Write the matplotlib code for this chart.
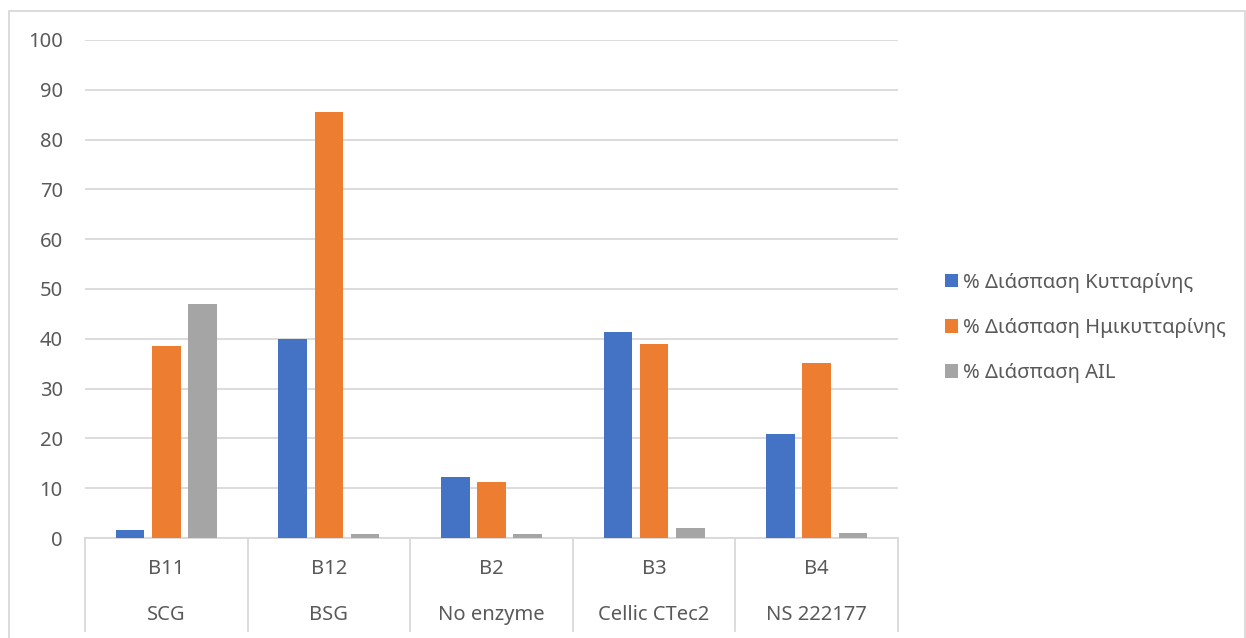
import matplotlib
matplotlib.use('Agg')
import matplotlib.pyplot as plt
import matplotlib.patches as mpatches
import matplotlib.transforms as mtransforms
from matplotlib.lines import Line2D
import numpy as np

plt.rcParams['font.family'] = ['Noto Sans', 'DejaVu Sans']

# δεδομένα
samples = ['B11', 'B12', 'B2', 'B3', 'B4']
enzymes = ['SCG', 'BSG', 'No enzyme', 'Cellic CTec2', 'NS 222177']
cellulose = [1.6, 40.0, 12.3, 41.3, 20.9]
hemicellulose = [38.5, 85.5, 11.3, 39.0, 35.1]
ail = [47.0, 0.8, 0.9, 2.0, 1.1]

series_names = ['% Διάσπαση Κυτταρίνης', '% Διάσπαση Ημικυτταρίνης', '% Διάσπαση AIL']
colors = ['#4472C4', '#ED7D31', '#A5A5A5']
text_color = '#595959'
grid_color = '#D9D9D9'
fs = 14.5

W, H = 1246, 638
fig = plt.figure(figsize=(W / 100, H / 100), dpi=100)

# άξονες σε pixel
x0, x1 = 85, 898
y_top, y_base = 40, 538
ax = fig.add_axes([x0 / W, (H - y_base) / H, (x1 - x0) / W, (y_base - y_top) / H])

x = np.arange(len(samples))
width = 0.176
step = 0.223
for i, (vals, name, c) in enumerate(zip([cellulose, hemicellulose, ail], series_names, colors)):
    ax.bar(x + (i - 1) * step, vals, width, color=c, label=name, zorder=3)

ax.set_xlim(-0.5, len(samples) - 0.5)
ax.set_ylim(0, 100)
ax.set_yticks(np.arange(0, 101, 10))
ax.yaxis.grid(True, color=grid_color, linewidth=1.3, zorder=0)
ax.set_axisbelow(True)
ax.tick_params(axis='y', length=0, pad=16, labelsize=fs, labelcolor=text_color)
ax.set_xticks([])
for s in ['top', 'right', 'left']:
    ax.spines[s].set_visible(False)
ax.spines['bottom'].set_color(grid_color)
ax.spines['bottom'].set_linewidth(1.3)

# ετικέτες κατηγοριών σε δύο επίπεδα
trans = mtransforms.blended_transform_factory(ax.transData, fig.transFigure)
for xi, s, e in zip(x, samples, enzymes):
    ax.text(xi, (H - 569) / H, s, transform=trans, ha='center', va='center',
            fontsize=fs, color=text_color)
    ax.text(xi, (H - 615) / H, e, transform=trans, ha='center', va='center',
            fontsize=fs, color=text_color)
for xb in np.arange(-0.5, len(samples), 1.0):
    ax.add_line(Line2D([xb, xb], [(H - y_base) / H, (H - 631) / H], transform=trans,
                       color=grid_color, linewidth=1.3, clip_on=False))

# πλαίσιο γραφήματος
fig.add_artist(mpatches.Rectangle((9 / W, -0.05), (1245 - 9) / W, (H - 11) / H + 0.05,
                                  transform=fig.transFigure, fill=False,
                                  edgecolor=grid_color, linewidth=1.3))

ax.legend(loc='center left', bbox_to_anchor=(927 / W, (H - 328) / H),
          bbox_transform=fig.transFigure, frameon=False, fontsize=fs,
          labelcolor=text_color, handlelength=0.65, handleheight=0.65,
          handletextpad=0.25, labelspacing=1.25)

fig.savefig('out.png', dpi=100)
